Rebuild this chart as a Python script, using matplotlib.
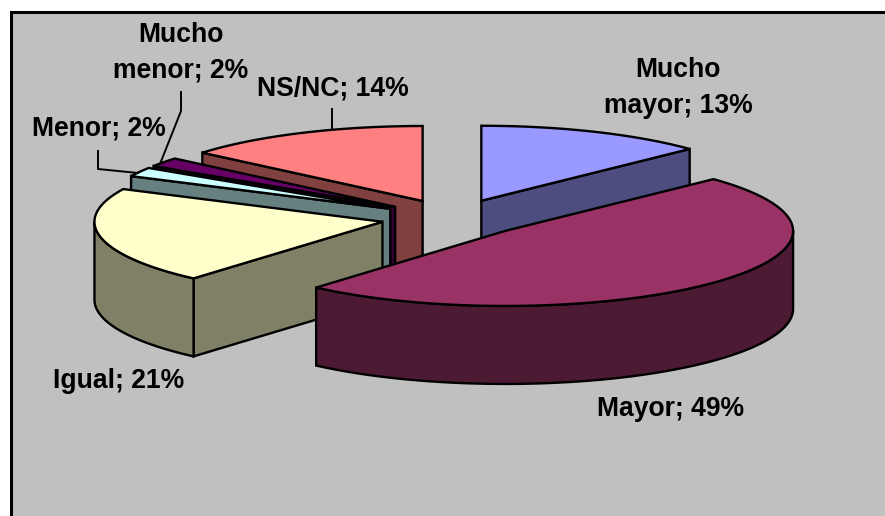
#!/usr/bin/env python3
"""Exploded 3-D style pie, drawn by projecting each slice onto an ellipse."""
import numpy as np
import matplotlib
matplotlib.use("Agg")
import matplotlib.pyplot as plt
from matplotlib.patches import Polygon

categories = ["Mucho mayor", "Mayor", "Igual", "Menor", "Mucho menor", "NS/NC"]
values = [13, 49, 21, 2, 2, 14]
top_colors = ["#9999FF", "#993366", "#FFFFCC", "#CCFFFF", "#660066", "#FF8080"]
side_colors = ["#4D4D80", "#4D1A33", "#808066", "#668080", "#330033", "#804040"]
draw_order = [0, 5, 4, 3, 2, 1]   # back to front

# pie geometry in image pixels
CX, CY = 453, 218
RX, RY = 288, 75
DEPTH = 78
EXPLODE = 0.25
LW = 1.7

plt.rcParams["font.family"] = ["Liberation Sans", "DejaVu Sans"]

fig = plt.figure(figsize=(8.85, 5.16), dpi=100)
ax = fig.add_axes([0, 0, 1, 1])
ax.set_xlim(0, 885)
ax.set_ylim(516, 0)
ax.axis("off")

# chart area with its frame running off the right and bottom
ax.add_patch(Polygon([(11, 12), (900, 12), (900, 530), (11, 530)],
                     facecolor="#C0C0C0", edgecolor="black", lw=2.2, zorder=0))

shares = np.array(values) / sum(values) * 2 * np.pi
ends = np.cumsum(shares)
starts = ends - shares


def project(ox, oy, t):
    return ox + RX * np.sin(t), oy - RY * np.cos(t)


def cut_face(ox, oy, t, color, z):
    x, y = project(ox, oy, t)
    ax.add_patch(Polygon([(ox, oy), (x, y), (x, y + DEPTH), (ox, oy + DEPTH)],
                         facecolor=color, edgecolor="black", lw=LW,
                         joinstyle="miter", zorder=z))


for n, i in enumerate(draw_order):
    t0, t1 = starts[i], ends[i]
    mid = (t0 + t1) / 2
    ox = CX + EXPLODE * RX * np.sin(mid)
    oy = CY - EXPLODE * RY * np.cos(mid)
    z = 1 + n

    # cut faces only where they turn toward the viewer
    if np.sin(t0) < 0:
        cut_face(ox, oy, t0, side_colors[i], z)
    if np.sin(t1) > 1e-6:
        cut_face(ox, oy, t1, side_colors[i], z)

    # outer wall, front half of the rim only
    a, b = max(t0, np.pi / 2), min(t1, 3 * np.pi / 2)
    if b > a:
        ts = np.linspace(a, b, 120)
        xs, ys = project(ox, oy, ts)
        wall = list(zip(xs, ys)) + list(zip(xs[::-1], ys[::-1] + DEPTH))
        ax.add_patch(Polygon(wall, facecolor=side_colors[i], edgecolor="black",
                             lw=LW, joinstyle="miter", zorder=z))

    ts = np.linspace(t0, t1, 120)
    xs, ys = project(ox, oy, ts)
    ax.add_patch(Polygon([(ox, oy)] + list(zip(xs, ys)), facecolor=top_colors[i],
                         edgecolor="black", lw=LW, joinstyle="miter", zorder=z))

# leader lines
ax.plot([98, 98, 138], [151, 169, 173], color="black", lw=1.4, zorder=10)
ax.plot([181, 181, 160], [92, 111, 164], color="black", lw=1.4, zorder=10)
ax.plot([332, 332], [109, 128], color="black", lw=1.4, zorder=10)

# labels
label_style = dict(fontsize=19.1, fontweight="bold", color="black",
                   ha="center", va="center", zorder=11, linespacing=1.46)
ax.text(678, 88, "Mucho\nmayor; 13%", **label_style)
ax.text(671, 409, "Mayor; 49%", **label_style)
ax.text(119, 381, "Igual; 21%", **label_style)
ax.text(98.5, 129, "Menor; 2%", **label_style)
ax.text(181, 53, "Mucho\nmenor; 2%", **label_style)
ax.text(333, 88, "NS/NC; 14%", **label_style)

fig.savefig("out.png", dpi=100, facecolor="white")
